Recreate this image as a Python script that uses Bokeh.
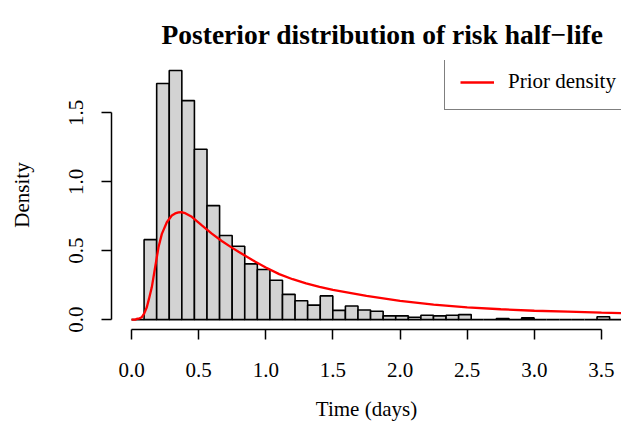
from bokeh.plotting import figure
from bokeh.models import Range1d, FixedTicker, Legend, LegendItem, ColumnDataSource
from bokeh.embed import file_html
from bokeh.resources import INLINE

# ---- data ----
bin_width = 0.0937
n_bins = 39
breaks = [round(i * bin_width, 4) for i in range(n_bins + 1)]
density = [0.0, 0.58, 1.713, 1.807, 1.589, 1.236, 0.827, 0.61, 0.532, 0.404,
           0.363, 0.285, 0.183, 0.137, 0.105, 0.172, 0.067, 0.099, 0.07, 0.06,
           0.027, 0.027, 0.017, 0.031, 0.027, 0.031, 0.036, 0.0, 0.0, 0.007,
           0.0, 0.012, 0.0, 0.0, 0.0, 0.0, 0.0, 0.02, 0.0]

prior_x = [0.0, 0.03, 0.04, 0.06, 0.077, 0.095, 0.114, 0.13, 0.151, 0.176, 0.201,
           0.226, 0.263, 0.30, 0.325, 0.35, 0.37, 0.40, 0.449, 0.524, 0.598,
           0.672, 0.747, 0.797, 0.90, 1.0, 1.1, 1.2, 1.3, 1.4, 1.5, 1.75, 2.0,
           2.25, 2.5, 2.75, 3.0, 3.25, 3.5, 3.654]
prior_y = [0.0, 0.0, 0.005, 0.009, 0.017, 0.045, 0.089, 0.15, 0.234, 0.38, 0.525,
           0.622, 0.706, 0.755, 0.770, 0.778, 0.779, 0.772, 0.746, 0.684, 0.624,
           0.570, 0.522, 0.492, 0.432, 0.378, 0.330, 0.293, 0.263, 0.238, 0.216,
           0.172, 0.136, 0.109, 0.089, 0.075, 0.064, 0.057, 0.050, 0.046]

x_ticks = [0.0, 0.5, 1.0, 1.5, 2.0, 2.5, 3.0, 3.5]
x_tick_labels = ["0.0", "0.5", "1.0", "1.5", "2.0", "2.5", "3.0", "3.5"]
y_ticks = [0.0, 0.5, 1.0, 1.5]
y_tick_labels = ["0.0", "0.5", "1.0", "1.5"]

title_text = "Posterior distribution of risk half\u2212life"
x_label = "Time (days)"
y_label = "Density"
legend_label = "Prior density"

FONT = "Liberation Serif"

p = figure(width=621, height=423, output_backend="svg", toolbar_location=None,
           x_range=Range1d(-0.149, 3.649), y_range=Range1d(-0.072, 1.88),
           min_border_left=111, min_border_right=0, min_border_top=60,
           min_border_bottom=94)
p.grid.visible = False
p.outline_line_color = None
p.background_fill_color = "white"
p.border_fill_color = "white"

src = ColumnDataSource(dict(left=breaks[:-1], right=breaks[1:], top=density,
                            bottom=[0.0] * len(density)))
p.quad(left="left", right="right", top="top", bottom="bottom", source=src,
       fill_color="#D3D3D3", line_color="black", line_width=1.6)

r = p.line(prior_x, prior_y, line_color="red", line_width=2.3)

# axes
for ax, ticks, labels, bounds in ((p.xaxis[0], x_ticks, x_tick_labels, (0, 3.5)),
                                  (p.yaxis[0], y_ticks, y_tick_labels, (0, 1.5))):
    ax.ticker = FixedTicker(ticks=ticks)
    ax.major_label_overrides = {t: l for t, l in zip(ticks, labels)}
    ax.bounds = bounds
    ax.axis_line_color = "black"
    ax.axis_line_width = 1.5
    ax.major_tick_line_color = "black"
    ax.major_tick_line_width = 1.5
    ax.major_tick_in = 0
    ax.major_tick_out = 10
    ax.minor_tick_line_color = None
    ax.major_label_text_font = FONT
    ax.major_label_text_font_size = "21px"
    ax.major_label_text_color = "black"
    ax.axis_label_text_font = FONT
    ax.axis_label_text_font_size = "21px"
    ax.axis_label_text_font_style = "normal"
    ax.axis_label_text_color = "black"

p.xaxis.axis_label = x_label
p.xaxis.major_label_standoff = 23
p.xaxis.axis_label_standoff = 17
p.yaxis.axis_label = y_label
p.yaxis.major_label_orientation = "vertical"
p.yaxis.major_label_standoff = 18
p.yaxis.axis_label_standoff = 33

p.title.text = title_text
p.title.text_font = FONT
p.title.text_font_size = "27.5px"
p.title.text_font_style = "bold"
p.title.text_color = "black"
p.title.align = "left"
p.title.offset = 50
p.title.standoff = 22

legend = Legend(items=[LegendItem(label=legend_label, renderers=[r])],
                location=(333, 219), margin=0, padding=15,
                glyph_width=34, label_standoff=14,
                label_text_font=FONT, label_text_font_size="21px",
                label_text_color="black",
                border_line_color="black", border_line_width=1.5,
                background_fill_color="white", background_fill_alpha=1.0)
p.add_layout(legend, "center")

open("out.html", "w").write(file_html(p, INLINE))
